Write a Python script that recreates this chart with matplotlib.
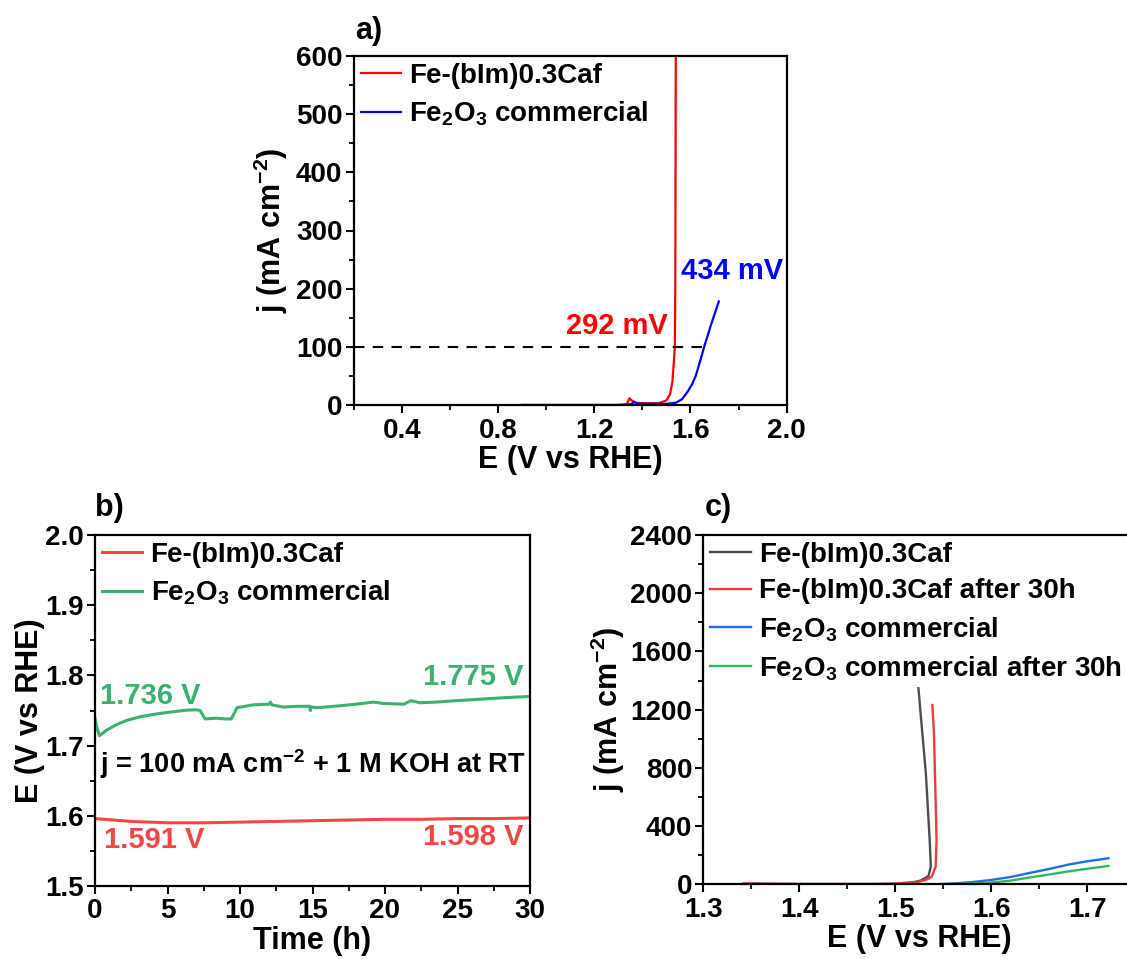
import matplotlib
matplotlib.use("Agg")
import matplotlib.pyplot as plt
from matplotlib.ticker import MultipleLocator

plt.rcParams['font.family'] = ['Liberation Sans', 'DejaVu Sans']
plt.rcParams['font.weight'] = 'bold'
plt.rcParams['axes.labelweight'] = 'bold'
plt.rcParams['mathtext.fontset'] = 'custom'
plt.rcParams['mathtext.rm'] = 'Liberation Sans:bold'
plt.rcParams['mathtext.it'] = 'Liberation Sans:bold'
plt.rcParams['mathtext.bf'] = 'Liberation Sans:bold'

# a) LSV curves
a_E_bim = [0.90, 1.10, 1.30, 1.335, 1.346, 1.355, 1.373, 1.40, 1.44, 1.47, 1.482, 1.50,
           1.515, 1.525, 1.532, 1.535, 1.537, 1.538, 1.539]
a_j_bim = [0, 0, 0, 1, 11.5, 8, 4, 3, 3, 3.5, 5, 8, 18, 40, 80, 100, 200, 400, 600]
a_E_fe2o3 = [0.90, 1.10, 1.30, 1.35, 1.366, 1.38, 1.45, 1.50, 1.54, 1.565, 1.59, 1.607,
             1.622, 1.64, 1.657, 1.684, 1.70, 1.718]
a_j_fe2o3 = [0, 0, 0, 1, 5, 2.5, 2, 2, 4, 10, 24, 36, 50, 75, 100, 136, 156, 178]

# b) chronopotentiometry at 100 mA cm-2
b_t_bim = [0, 2.5, 5, 7.5, 10, 12.5, 15, 17.5, 20, 22.5, 25, 27.5, 30]
b_E_bim = [1.596, 1.592, 1.590, 1.590, 1.591, 1.592, 1.593, 1.594, 1.595, 1.595, 1.596, 1.596, 1.597]
b_t_fe2o3 = [0, 0.1, 0.3, 0.8, 1.5, 2.2, 3.1, 4.2, 5.3, 6.3, 7.0, 7.24, 7.6, 8.3, 9.0, 9.4, 9.8,
             10.9, 12.0, 12.1, 12.2, 12.97, 14.0, 14.8, 14.85, 14.9, 15.3, 16.5, 18.0, 19.2,
             19.9, 21.3, 21.8, 22.4, 23.5, 24.9, 26.5, 28.0, 30.0]
b_E_fe2o3 = [1.739, 1.728, 1.714, 1.722, 1.730, 1.736, 1.741, 1.745, 1.748, 1.7505, 1.751, 1.750,
             1.738, 1.739, 1.738, 1.738, 1.754, 1.758, 1.759, 1.762, 1.758, 1.755, 1.756, 1.756,
             1.750, 1.755, 1.754, 1.756, 1.759, 1.762, 1.760, 1.759, 1.764, 1.761, 1.762, 1.764,
             1.766, 1.768, 1.770]

# c) LSV before / after 30 h
c_E_bim = [1.342, 1.36, 1.40, 1.44, 1.48, 1.50, 1.512, 1.52, 1.526, 1.5305, 1.5346, 1.537,
           1.5358, 1.5318, 1.528, 1.5241]
c_j_bim = [5, 4, 2, 2, 2, 4, 11, 16, 25, 40, 58, 121, 305, 765, 1050, 1347]
c_E_bim30 = [1.342, 1.36, 1.40, 1.44, 1.477, 1.50, 1.512, 1.522, 1.529, 1.535, 1.538, 1.542,
             1.543, 1.5413, 1.5403, 1.5386]
c_j_bim30 = [5, 4, 2, 2, 2, 4, 7, 14, 25, 40, 53, 121, 305, 764, 1037, 1232]
c_E_fe2o3 = [1.54, 1.56, 1.58, 1.60, 1.62, 1.64, 1.66, 1.68, 1.70, 1.722]
c_j_fe2o3 = [0, 5, 15, 30, 50, 78, 105, 135, 158, 179]
c_E_fe2o3_30 = [1.55, 1.58, 1.60, 1.62, 1.64, 1.66, 1.68, 1.70, 1.722]
c_j_fe2o3_30 = [0, 5, 12, 25, 47, 67, 88, 107, 126]

W, H = 1127, 959
fig = plt.figure(figsize=(W / 100, H / 100), dpi=100)


def px_axes(left, top, right, bottom):
    return fig.add_axes([left / W, 1 - bottom / H, (right - left) / W, (bottom - top) / H])


def style(ax):
    for s in ax.spines.values():
        s.set_linewidth(1.6)
    ax.tick_params(which='major', direction='out', length=6, width=1.5, labelsize=20, pad=3)
    ax.tick_params(axis='y', which='major', pad=2)
    ax.tick_params(which='minor', direction='out', length=3.5, width=1.3)
    for lab in ax.get_xticklabels() + ax.get_yticklabels():
        lab.set_fontweight('bold')


def add_legend(ax):
    ax.legend(loc='upper left', frameon=False, fontsize=LEG, handlelength=1.45,
              handletextpad=0.3, labelspacing=0.38, borderaxespad=0.1, borderpad=0.15)


LBL = 22
LEG = 20
ANN = 21

# ---- panel a ----
ax1 = px_axes(353.6, 56, 786.7, 405)
ax1.plot(a_E_bim, a_j_bim, color='#ff0000', lw=1.6, label='Fe-(bIm)0.3Caf')
ax1.plot(a_E_fe2o3, a_j_fe2o3, color='#0000ff', lw=1.6, label='Fe$_2$O$_3$ commercial')
ax1.plot([0.2, 1.664], [100, 100], color='black', lw=1.5, ls=(0, (5, 4)))
ax1.set_xlim(0.2, 2.0)
ax1.set_ylim(0, 600)
ax1.xaxis.set_major_locator(MultipleLocator(0.4))
ax1.xaxis.set_minor_locator(MultipleLocator(0.2))
ax1.yaxis.set_major_locator(MultipleLocator(100))
ax1.yaxis.set_minor_locator(MultipleLocator(50))
ax1.set_xlabel('E (V vs RHE)', fontsize=LBL, labelpad=1)
ax1.set_ylabel('j (mA cm$^{-2}$)', fontsize=LBL, labelpad=4)
style(ax1)
ax1.text(1.296, 136, '292 mV', color='#ff0000', fontsize=ANN, ha='center', va='center')
ax1.text(1.771, 230, '434 mV', color='#0000ff', fontsize=ANN, ha='center', va='center')
add_legend(ax1)
fig.text(355 / W, 1 - 31 / H, 'a)', fontsize=22, fontweight='bold', va='center')

# ---- panel b ----
ax2 = px_axes(95, 535, 530, 886)
ax2.plot(b_t_bim, b_E_bim, color='#f04646', lw=2.2, label='Fe-(bIm)0.3Caf')
ax2.plot(b_t_fe2o3, b_E_fe2o3, color='#3cb06e', lw=2.2, label='Fe$_2$O$_3$ commercial')
ax2.set_xlim(0, 30)
ax2.set_ylim(1.5, 2.0)
ax2.xaxis.set_major_locator(MultipleLocator(5))
ax2.xaxis.set_minor_locator(MultipleLocator(2.5))
ax2.yaxis.set_major_locator(MultipleLocator(0.1))
ax2.yaxis.set_minor_locator(MultipleLocator(0.05))
ax2.set_xlabel('Time (h)', fontsize=LBL, labelpad=1)
ax2.set_ylabel('E (V vs RHE)', fontsize=LBL, labelpad=0)
style(ax2)
ax2.text(3.8, 1.771, '1.736 V', color='#3cb06e', fontsize=ANN, ha='center', va='center')
ax2.text(26.1, 1.798, '1.775 V', color='#3cb06e', fontsize=ANN, ha='center', va='center')
ax2.text(4.1, 1.565, '1.591 V', color='#f04646', fontsize=ANN, ha='center', va='center')
ax2.text(26.1, 1.570, '1.598 V', color='#f04646', fontsize=ANN, ha='center', va='center')
ax2.text(15.0, 1.674, 'j = 100 mA cm$^{-2}$ + 1 M KOH at RT', color='black', fontsize=19.5,
         ha='center', va='center')
add_legend(ax2)
fig.text(95 / W, 1 - 508 / H, 'b)', fontsize=22, fontweight='bold', va='center')

# ---- panel c ----
ax3 = px_axes(703.3, 535, 1135.3, 884.3)
ax3.plot(c_E_bim, c_j_bim, color='#4d4d4d', lw=1.7, label='Fe-(bIm)0.3Caf')
ax3.plot(c_E_bim30, c_j_bim30, color='#f03a3a', lw=1.7, label='Fe-(bIm)0.3Caf after 30h')
ax3.plot(c_E_fe2o3, c_j_fe2o3, color='#1e6ee6', lw=1.7, label='Fe$_2$O$_3$ commercial')
ax3.plot(c_E_fe2o3_30, c_j_fe2o3_30, color='#32b464', lw=1.7,
         label='Fe$_2$O$_3$ commercial after 30h')
ax3.set_xlim(1.3, 1.75)
ax3.set_ylim(0, 2400)
ax3.xaxis.set_major_locator(MultipleLocator(0.1))
ax3.xaxis.set_minor_locator(MultipleLocator(0.05))
ax3.yaxis.set_major_locator(MultipleLocator(400))
ax3.yaxis.set_minor_locator(MultipleLocator(200))
ax3.set_xlabel('E (V vs RHE)', fontsize=LBL, labelpad=1)
ax3.set_ylabel('j (mA cm$^{-2}$)', fontsize=LBL, labelpad=2)
style(ax3)
add_legend(ax3)
fig.text(705 / W, 1 - 508 / H, 'c)', fontsize=22, fontweight='bold', va='center')

fig.savefig('out.png', dpi=100)
